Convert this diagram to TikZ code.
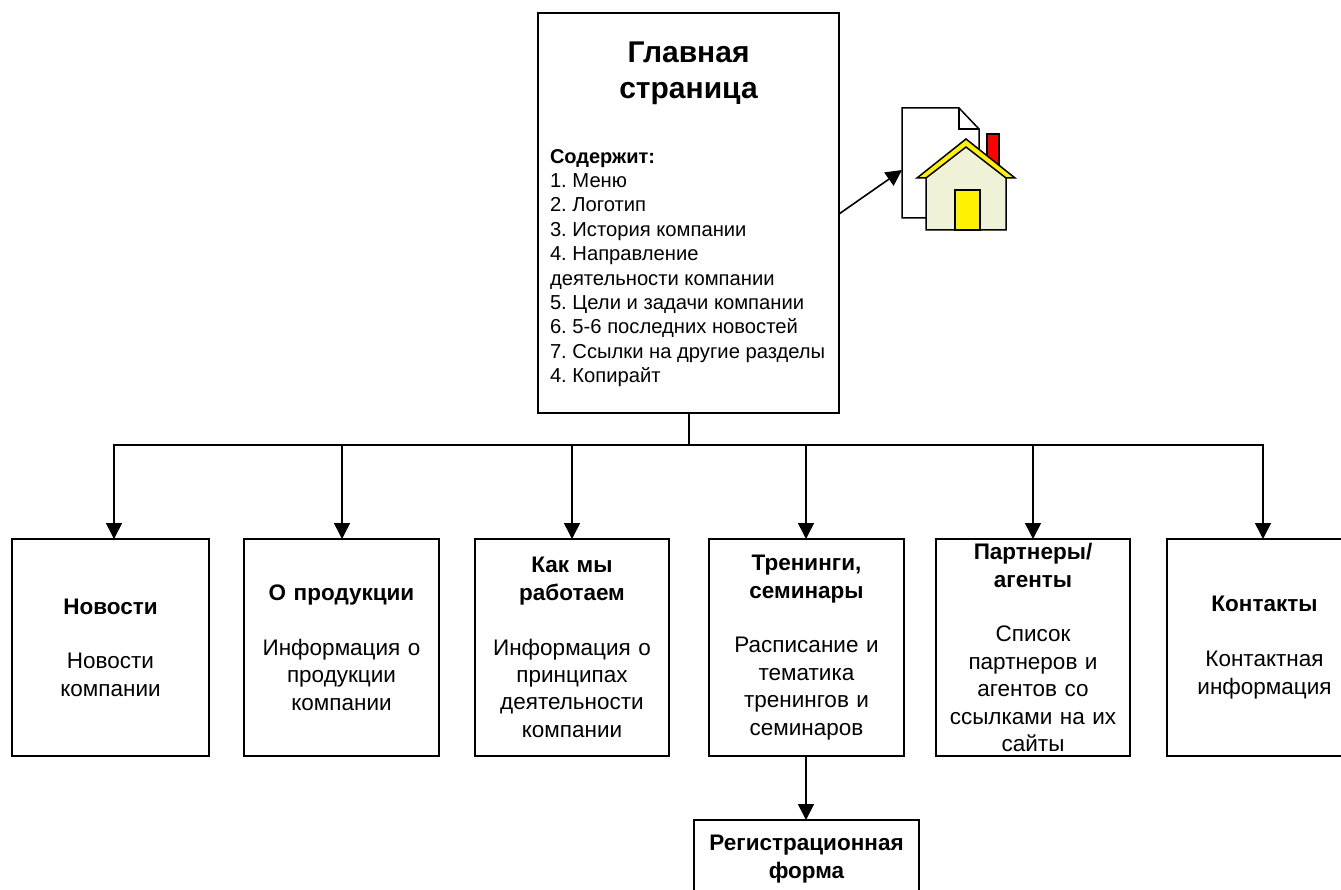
\documentclass[tikz,border=0pt]{standalone}
\usepackage{fontspec}
\setmainfont{Liberation Sans}
\usetikzlibrary{arrows.meta}
\definecolor{housebody}{HTML}{F0F2D8}
\newcommand{\ttl}[1]{{\bfseries #1}}
\tikzset{
  every node/.style={font=\fontsize{22.5}{27.4}\selectfont},
  pagebox/.style={draw=black,line width=1.6pt,fill=white,inner sep=0pt,outer sep=0pt,align=center,anchor=north west},
  childbox/.style={pagebox,minimum height=217pt,text width=190pt},
  link/.style={draw=black,line width=1.6pt},
  arrowlink/.style={link,-{Triangle[length=16pt,width=16pt]}},
  icon/.style={draw=black,line width=1.5pt,line join=miter},
}
\begin{document}
\begin{tikzpicture}[x=1pt,y=-1pt]
\clip (0,0) rectangle (1341,890);
% home page
\node[pagebox,minimum width=301pt,minimum height=400pt,align=left] (home) at (538,13)
 {\parbox[c][400pt][t]{301pt}{\frenchspacing\vspace*{29pt}%
  \centering{\bfseries\fontsize{30}{36}\selectfont Главная\\страница\par}\vspace{40pt}%
  \raggedright\leftskip=12pt\rightskip=0pt plus 1fil\fontsize{20.2}{24.4}\selectfont
  {\bfseries\fontsize{20}{24.4}\selectfont Содержит:}\\1. Меню\\2. Логотип\\3. История компании\\4. Направление\\деятельности компании\\5. Цели и задачи компании\\6. 5-6 последних новостей\\7. Ссылки на другие разделы\\4. Копирайт\par}};
% children
\node[childbox,minimum width=197pt] (news) at (12,539)
 {\ttl{Новости}\\[27.4pt]Новости\\компании};
\node[childbox,minimum width=195pt] (prod) at (244,539)
 {\ttl{О продукции}\\[27.4pt]Информация о\\продукции\\компании};
\node[childbox,minimum width=194pt] (work) at (475,539)
 {\ttl{Как мы\\работаем}\\[27.4pt]Информация о\\принципах\\деятельности\\компании};
\node[childbox,minimum width=195pt] (train) at (709,539)
 {\ttl{Тренинги,\\семинары}\\[27.4pt]Расписание и\\тематика\\тренингов и\\семинаров};
\node[childbox,minimum width=194pt] (partn) at (936,539)
 {\ttl{Партнеры/\\агенты}\\[27.4pt]Список\\партнеров и\\агентов со\\ссылками на их\\сайты};
\node[childbox,minimum width=195pt,text width=195pt] (cont) at (1167,539)
 {\ttl{Контакты}\\[27.4pt]Контактная\\информация};
\node[pagebox,minimum width=225pt,minimum height=78pt,text width=220pt] (reg) at (694,820)
 {\ttl{Регистрационная\\форма}};
% bus
\coordinate (busroot) at (689,445);
\coordinate (busa) at (114,445);
\coordinate (busb) at (342,445);
\coordinate (busc) at (572,445);
\coordinate (busd) at (806,445);
\coordinate (buse) at (1033,445);
\coordinate (busf) at (1263,445);
\draw[link] (busroot |- home.south) -- (busroot);
\draw[link,line cap=rect] (busa) -- (busf);
\draw[arrowlink] (busa) -- (busa |- news.north);
\draw[arrowlink] (busb) -- (busb |- prod.north);
\draw[arrowlink] (busc) -- (busc |- work.north);
\draw[arrowlink] (busd) -- (busd |- train.north);
\draw[arrowlink] (buse) -- (buse |- partn.north);
\draw[arrowlink] (busf) -- (busf |- cont.north);
\coordinate (tr) at (806,755);
\draw[arrowlink] (tr |- train.south) -- (tr |- reg.north);
% icon
\draw[icon,fill=white] (902,108) -- (959,108) -- (979,129) -- (979,190) -- (979,218) -- (902,218) -- cycle;
\draw[icon] (959,108) -- (959,129) -- (979,129);
\draw[icon,fill=red] (987,175) -- (987,134) -- (999,134) -- (999,175) -- cycle;
\draw[icon,fill=housebody] (926,175) -- (966,142) -- (1006,175) -- (1006,230) -- (926,230) -- cycle;
\draw[icon,fill=yellow] (917,178) -- (966,139) -- (1015,178) -- (1006,178) -- (966,147) -- (926,178) -- cycle;
\draw[icon,fill=yellow] (955,230) -- (955,190) -- (980,190) -- (980,230) -- cycle;
\coordinate (docedge) at (902,170);
\coordinate (homeport) at (839,214);
\draw[arrowlink] (homeport) -- (docedge);
\end{tikzpicture}
\end{document}
